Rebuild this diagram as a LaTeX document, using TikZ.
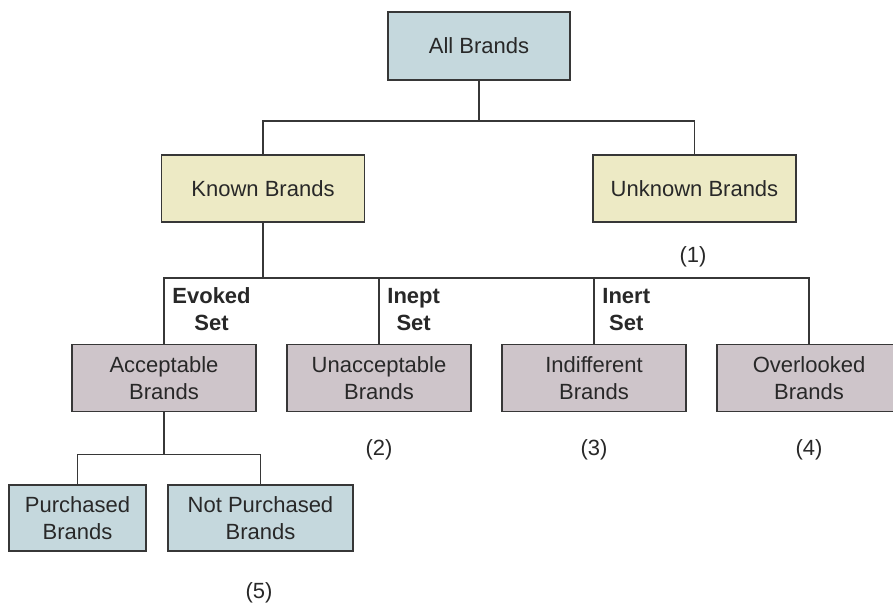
\documentclass[tikz,border=0pt]{standalone}
\usepackage{fontspec}
\setmainfont{Liberation Sans}
\usetikzlibrary{positioning,calc}
\definecolor{brandblue}{RGB}{197,216,221}
\definecolor{brandyellow}{RGB}{237,234,197}
\definecolor{brandmauve}{RGB}{206,197,202}
\definecolor{brandline}{RGB}{55,55,55}
\definecolor{brandtext}{RGB}{40,40,40}

\begin{document}
\begin{tikzpicture}[
    x=0.5pt, y=-0.5pt,
    box/.style={rectangle, draw=brandline, line width=0.9pt, minimum height=33.5pt, inner sep=0pt, align=center, text=brandtext, font=\fontsize{11}{13.5}\selectfont},
    allbox/.style={box, fill=brandblue, minimum width=91pt, minimum height=34pt},
    knownbox/.style={box, fill=brandyellow, minimum width=101.5pt},
    setbox/.style={box, fill=brandmauve, minimum width=92pt},
    buybox/.style={box, fill=brandblue, minimum height=33pt},
    link/.style={draw=brandline, line width=0.9pt},
    setlabel/.style={anchor=west, inner sep=0pt, align=center, text=brandtext, font=\fontsize{11}{13.5}\selectfont\bfseries},
    num/.style={text=brandtext, font=\fontsize{11}{13.5}\selectfont}
]
\clip (0,0) rectangle (893,604);

% Top levels
\node[allbox] (all) at (479,46) {All Brands};
\node[knownbox] (known) at (263,188.5) {Known Brands};
\node[knownbox] (unknown) at (694.5,188.5) {Unknown Brands};

% Sets
\node[setbox] (accept) at (164,378) {Acceptable\\Brands};
\node[setbox, right=14.6pt of accept] (unaccept) {Unacceptable\\Brands};
\node[setbox, right=14.6pt of unaccept] (indiff) {Indifferent\\Brands};
\node[setbox, right=14.6pt of indiff] (overlook) {Overlooked\\Brands};

% Purchase
\node[buybox, minimum width=68.5pt] (purch) at (77.5,518) {Purchased\\Brands};
\node[buybox, minimum width=92.5pt, right=10.1pt of purch] (notpurch) {Not Purchased\\Brands};

% Connectors
\coordinate (topbus) at ($(all.south)+(0,40)$);
\coordinate (setbus) at ($(known.south)+(0,55)$);
\coordinate (buybus) at ($(accept.south)+(0,42)$);

\draw[link] (all.south) -- (topbus) -| (known.north);
\draw[link] (topbus) -| (unknown.north);
\draw[link] (known.south) -- (setbus) -| (accept.north);
\draw[link] (setbus) -| (unaccept.north);
\draw[link] (setbus) -| (indiff.north);
\draw[link] (setbus) -| (overlook.north);
\draw[link] (accept.south) -- (buybus) -| (purch.north);
\draw[link] (buybus) -| (notpurch.north);

% Set labels
\node[setlabel] (evoked) at ($(accept.north)+(8,-34)$) {Evoked\\Set};
\node[setlabel] (inept) at ($(unaccept.north)+(8,-34)$) {Inept\\Set};
\node[setlabel] (inert) at ($(indiff.north)+(8,-34)$) {Inert\\Set};

% Numbers
\node[num] (n1) at (693,257) {(1)};
\node[num] (n2) at ($(unaccept.south)+(0,37)$) {(2)};
\node[num] (n3) at ($(indiff.south)+(0,37)$) {(3)};
\node[num] (n4) at ($(overlook.south)+(0,37)$) {(4)};
\node[num] (n5) at (259,593) {(5)};

\end{tikzpicture}
\end{document}
